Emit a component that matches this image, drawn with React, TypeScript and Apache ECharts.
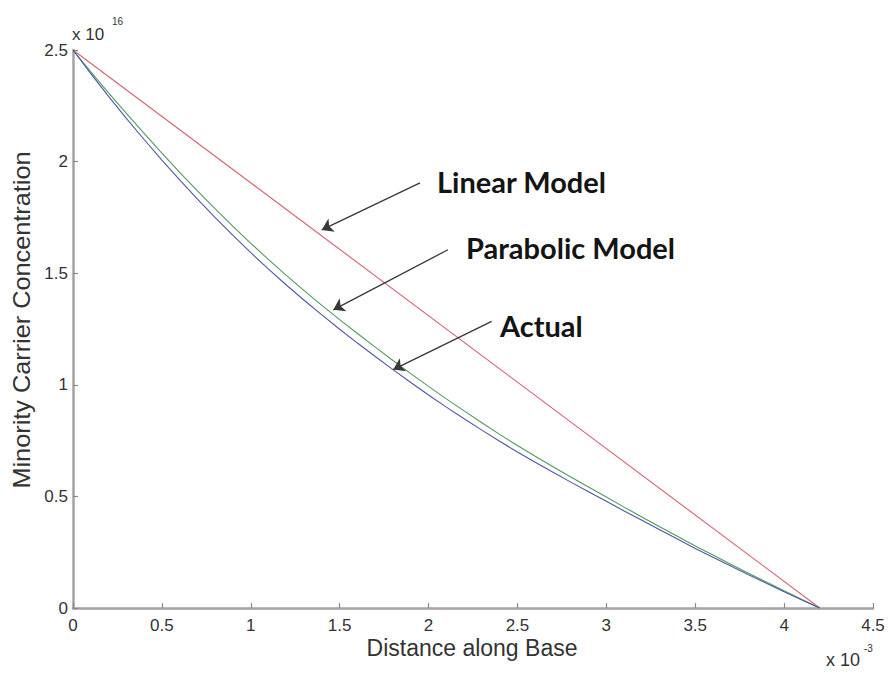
import React, { useEffect, useRef } from "react";
import * as echarts from "echarts";

// Distance along the base, in units of 1e-3
const distance = [
  0, 0.1, 0.2, 0.3, 0.4, 0.5, 0.6, 0.7, 0.8, 0.9, 1.0, 1.1, 1.2, 1.3, 1.4,
  1.5, 1.6, 1.7, 1.8, 1.9, 2.0, 2.1, 2.2, 2.3, 2.4, 2.5, 2.6, 2.7, 2.8, 2.9,
  3.0, 3.1, 3.2, 3.3, 3.4, 3.5, 3.6, 3.7, 3.8, 3.9, 4.0, 4.1, 4.2,
];

// Minority carrier concentration, in units of 1e16
const actual = [
  2.5, 2.394, 2.292, 2.194, 2.099, 2.007, 1.918, 1.832, 1.749, 1.669, 1.592,
  1.518, 1.447, 1.379, 1.313, 1.249, 1.187, 1.127, 1.068, 1.01, 0.954, 0.9,
  0.848, 0.797, 0.747, 0.699, 0.653, 0.608, 0.564, 0.521, 0.478, 0.435, 0.393,
  0.351, 0.309, 0.267, 0.227, 0.188, 0.149, 0.111, 0.073, 0.036, 0,
];

const parabolic = [
  2.5, 2.402, 2.308, 2.216, 2.126, 2.038, 1.952, 1.869, 1.788, 1.71, 1.634,
  1.561, 1.49, 1.422, 1.356, 1.292, 1.23, 1.169, 1.109, 1.05, 0.993, 0.937,
  0.883, 0.83, 0.778, 0.728, 0.68, 0.633, 0.587, 0.542, 0.497, 0.452, 0.408,
  0.364, 0.321, 0.278, 0.237, 0.196, 0.156, 0.116, 0.077, 0.038, 0,
];

const linearX = [0, 4.2];
const linearY = [2.5, 0];

const xTicks = [0, 0.5, 1, 1.5, 2, 2.5, 3, 3.5, 4, 4.5];
const yTicks = [0, 0.5, 1, 1.5, 2, 2.5];

// Annotation arrows: [tail, tip] in data coordinates
const arrowLinear = [[1.952, 1.905], [1.399, 1.694]];
const arrowParabolic = [[2.109, 1.605], [1.464, 1.336]];
const arrowActual = [[2.355, 1.284], [1.801, 1.068]];

const annotations = ["Linear Model", "Parabolic Model", "Actual"];

const tickFont = "Liberation Sans, Arial, sans-serif";
const noteFont = "Lato, 'Open Sans', sans-serif";

export default function App() {
  const ref = useRef<HTMLDivElement>(null);

  useEffect(() => {
    if (!ref.current) return;
    const chart = echarts.init(ref.current, undefined, { renderer: "svg" });

    const pairs = (xs: number[], ys: number[]) => xs.map((x, i) => [x, ys[i]]);
    const arrow = (a: number[][]) => [{ coord: a[0] }, { coord: a[1] }];

    const axisCommon = {
      axisLine: { show: true, lineStyle: { color: "#a3a3a3", width: 2.5 } },
      axisTick: { show: true, inside: true, length: 5, lineStyle: { color: "#8a8a8a", width: 1.2 } },
      splitLine: { show: false },
      axisLabel: { color: "#333", fontFamily: tickFont, fontSize: 17 },
    };

    chart.setOption({
      animation: false,
      backgroundColor: "#ffffff",
      grid: { left: 73, right: 17, top: 50, bottom: 65 },
      xAxis: {
        type: "value",
        min: 0,
        max: 4.5,
        interval: 0.5,
        ...axisCommon,
        axisLabel: {
          ...axisCommon.axisLabel,
          margin: 9,
          formatter: (v: number) => (xTicks.includes(v) ? String(v) : ""),
        },
      },
      yAxis: {
        type: "value",
        min: 0,
        max: 2.5,
        interval: 0.5,
        ...axisCommon,
        axisLabel: {
          ...axisCommon.axisLabel,
          margin: 5,
          formatter: (v: number) => (yTicks.includes(v) ? String(v) : ""),
        },
      },
      series: [
        {
          name: "Linear Model",
          type: "line",
          data: pairs(linearX, linearY),
          showSymbol: false,
          lineStyle: { color: "#d6636f", width: 1.1 },
          z: 2,
          markLine: {
            silent: true,
            symbol: ["none", "arrow"],
            symbolSize: 11,
            label: { show: false },
            lineStyle: { color: "#383838", width: 1.3, type: "solid" },
            emphasis: { disabled: true },
            data: [arrow(arrowLinear), arrow(arrowParabolic), arrow(arrowActual)],
          },
        },
        {
          name: "Parabolic Model",
          type: "line",
          data: pairs(distance, parabolic),
          showSymbol: false,
          lineStyle: { color: "#4f9a62", width: 1.1 },
          z: 3,
        },
        {
          name: "Actual",
          type: "line",
          data: pairs(distance, actual),
          showSymbol: false,
          lineStyle: { color: "#4e58a4", width: 1.1 },
          z: 4,
        },
      ],
      graphic: [
        {
          type: "text",
          x: 22,
          y: 320,
          rotation: Math.PI / 2,
          scaleX: 1.1,
          style: {
            text: "Minority Carrier Concentration",
            font: `23px ${tickFont}`,
            fill: "#333",
            align: "center",
            verticalAlign: "middle",
          },
        },
        {
          type: "text",
          x: 472,
          y: 648,
          style: {
            text: "Distance along Base",
            font: `23px ${tickFont}`,
            fill: "#333",
            align: "center",
            verticalAlign: "middle",
          },
        },
        {
          type: "text",
          x: 72,
          y: 34,
          style: { text: "x 10", font: `17px ${tickFont}`, fill: "#333", align: "left", verticalAlign: "middle" },
        },
        {
          type: "text",
          x: 112,
          y: 21,
          style: { text: "16", font: `10px ${tickFont}`, fill: "#333", align: "left", verticalAlign: "middle" },
        },
        {
          type: "text",
          x: 826,
          y: 660,
          style: { text: "x 10", font: `18px ${tickFont}`, fill: "#333", align: "left", verticalAlign: "middle" },
        },
        {
          type: "text",
          x: 864,
          y: 648,
          style: { text: "-3", font: `10px ${tickFont}`, fill: "#333", align: "left", verticalAlign: "middle" },
        },
        {
          type: "text",
          x: 437,
          y: 181,
          style: { text: annotations[0], font: `bold 29px ${noteFont}`, fill: "#141414", align: "left", verticalAlign: "middle" },
        },
        {
          type: "text",
          x: 466,
          y: 247,
          style: { text: annotations[1], font: `bold 29px ${noteFont}`, fill: "#141414", align: "left", verticalAlign: "middle" },
        },
        {
          type: "text",
          x: 500,
          y: 325,
          style: { text: annotations[2], font: `bold 29px ${noteFont}`, fill: "#141414", align: "left", verticalAlign: "middle" },
        },
      ],
    });

    return () => chart.dispose();
  }, []);

  return (
    <div
      ref={ref}
      style={{ position: "fixed", left: 0, top: 0, width: 890, height: 673, background: "#fff" }}
    />
  );
}
